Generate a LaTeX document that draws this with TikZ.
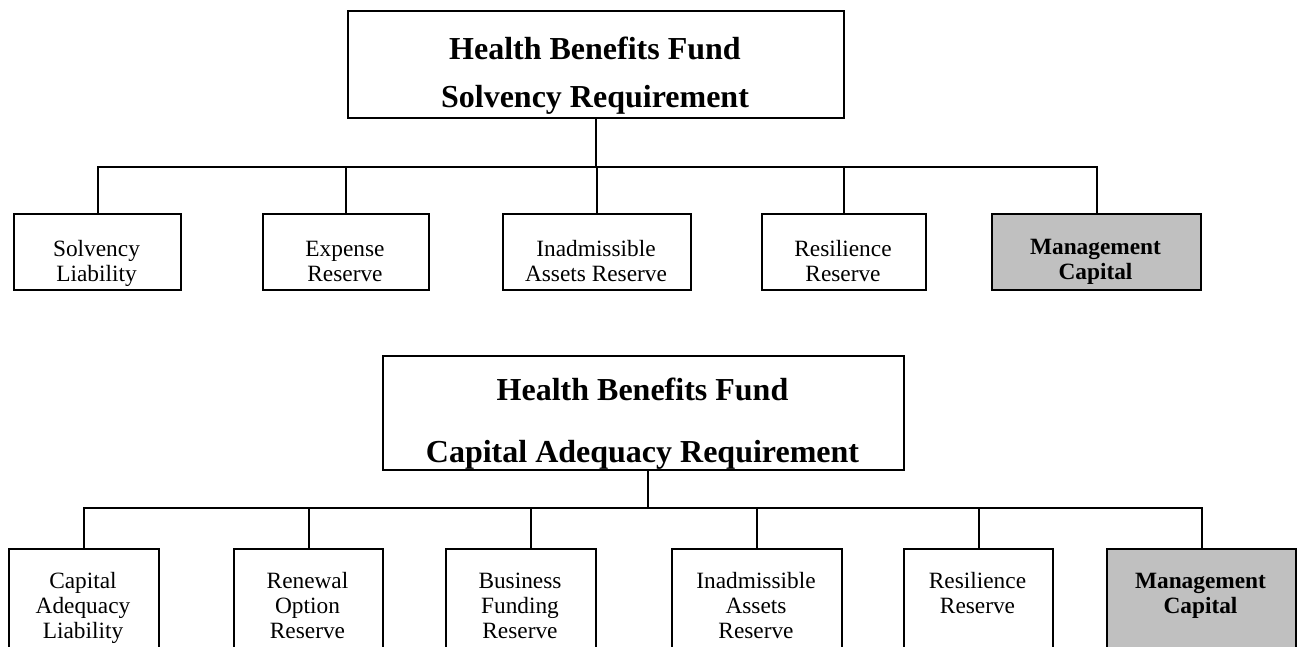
\documentclass[tikz,border=0pt]{standalone}
\usepackage{fontspec}
\setmainfont{Liberation Serif}
\usetikzlibrary{positioning}
\definecolor{mgmtgrey}{RGB}{192,192,192}

\begin{document}
\begin{tikzpicture}[x=0.75pt, y=-0.75pt, line width=1.5pt,
  wh/.style 2 args={minimum width=#1*0.75pt, minimum height=#2*0.75pt},
  hfbox/.style={draw, inner sep=0pt, anchor=north west},
  subbox/.style={draw, inner sep=0pt, anchor=north west},
  mgmtbox/.style={subbox, fill=mgmtgrey},
  headtxt/.style={anchor=base, align=center, inner sep=0pt, font=\fontsize{24}{35.5}\selectfont\bfseries},
  subtxt/.style={anchor=base, align=center, inner sep=0pt, font=\fontsize{17.5}{18.75}\selectfont}]
\useasboundingbox (0,0) rectangle (1301,646);
\clip (0,0) rectangle (1301,646);

% Solvency chart (text nodes sit on their last baseline)
\node[hfbox, wh={496}{107}] (h1) at (347,10) {};
\node[headtxt] (h1t) at (595,107) {Health Benefits Fund\\Solvency Requirement};

\node[subbox, wh={167}{76}] (s1) at (13,213) {};
\node[subbox, wh={166}{76}] (s2) at (262,213) {};
\node[subbox, wh={188}{76}] (s3) at (502,213) {};
\node[subbox, wh={164}{76}] (s4) at (761,213) {};
\node[mgmtbox, wh={209}{76}] (s5) at (991,213) {};
\node[subtxt] (s1t) at (96.5,281) {Solvency\\Liability};
\node[subtxt] (s2t) at (345,281) {Expense\\Reserve};
\node[subtxt] (s3t) at (596,281) {Inadmissible\\Assets Reserve};
\node[subtxt] (s4t) at (843,281) {Resilience\\Reserve};
\node[subtxt, font=\fontsize{17.5}{18.75}\selectfont\bfseries] (s5t) at (1095.5,279) {Management\\Capital};

% Capital adequacy chart
\node[hfbox, wh={521}{114}] (h2) at (382,355) {};
\node[headtxt, font=\fontsize{24}{46.5}\selectfont\bfseries] (h2t) at (642.5,462) {Health Benefits Fund\\Capital Adequacy Requirement};

\node[subbox, wh={150}{112}] (b1) at (8,548) {};
\node[subbox, wh={149}{112}] (b2) at (233,548) {};
\node[subbox, wh={150}{112}] (b3) at (445,548) {};
\node[subbox, wh={170}{112}] (b4) at (671,548) {};
\node[subbox, wh={149}{112}] (b5) at (903,548) {};
\node[mgmtbox, wh={189}{112}] (b6) at (1106,548) {};
\node[subtxt] (b1t) at (83,638) {Capital\\Adequacy\\Liability};
\node[subtxt] (b2t) at (307.5,638) {Renewal\\Option\\Reserve};
\node[subtxt] (b3t) at (520,638) {Business\\Funding\\Reserve};
\node[subtxt] (b4t) at (756,638) {Inadmissible\\Assets\\Reserve};
\node[subtxt] (b5t) at (977.5,613) {Resilience\\Reserve};
\node[subtxt, font=\fontsize{17.5}{18.75}\selectfont\bfseries] (b6t) at (1200.5,613) {Management\\Capital};

% Connections
\coordinate (bus1) at (595,167);
\draw (h1.south) -- (h1.south |- bus1);
\foreach \n in {s1,s2,s3,s4,s5}
  \draw (\n.north) |- (bus1);

\coordinate (bus2) at (646.5,508);
\draw ([xshift=3pt]h2.south) -- ([xshift=3pt]h2.south |- bus2);
\foreach \n in {b1,b2,b4,b5,b6}
  \draw (\n.north) |- (bus2);
\draw ([xshift=7.5pt]b3.north) |- (bus2);
\end{tikzpicture}
\end{document}
